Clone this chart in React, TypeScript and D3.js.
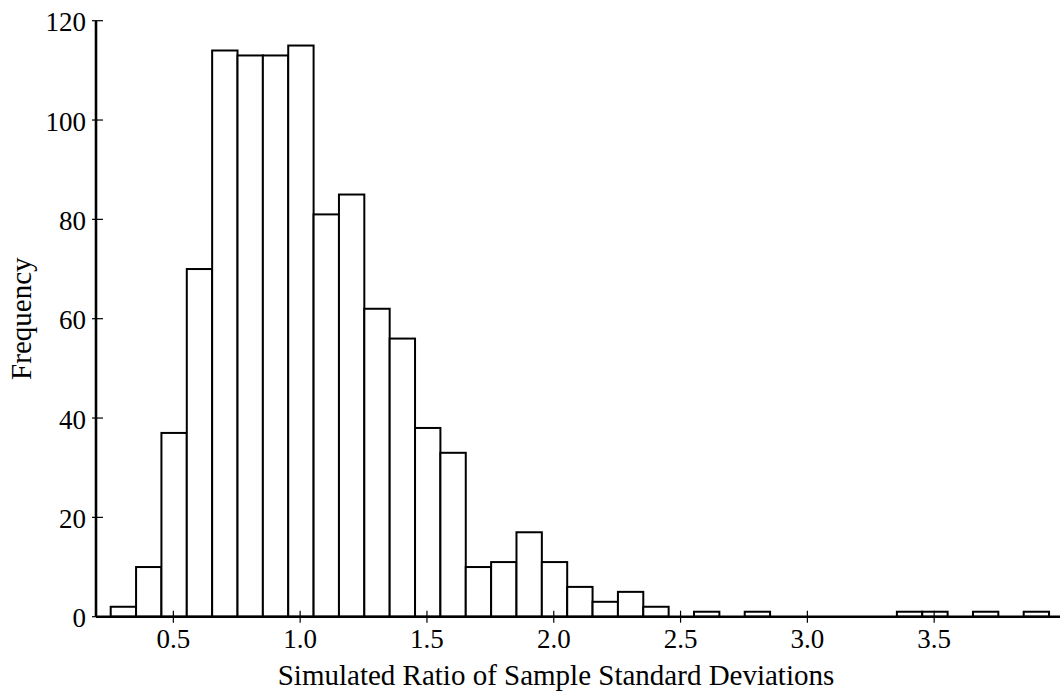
import React from "react";
import * as d3 from "d3";

// Histogram data: bins of width 0.1 starting at 0.253
const binStart = 0.253;
const binWidth = 0.1;
const counts = [
  2, 10, 37, 70, 114, 113, 113, 115, 81, 85, 62, 56, 38, 33, 10, 11, 17, 11, 6, 3, 5, 2,
  0, 1, 0, 1, 0, 0, 0, 0, 0, 1, 1, 0, 1, 0, 1,
];
const xTicks = [0.5, 1.0, 1.5, 2.0, 2.5, 3.0, 3.5];
const yTicks = [0, 20, 40, 60, 80, 100, 120];
const xTitle = "Simulated Ratio of Sample Standard Deviations";
const yTitle = "Frequency";

const W = 1060;
const H = 692;
const FONT = "'Liberation Serif', 'Times New Roman', serif";

export default function App() {
  const x = d3.scaleLinear().domain([0.195, 3.993]).range([96, 1059.2]);
  const y = d3.scaleLinear().domain([0, 120]).range([616.7, 20.7]);

  const bins = counts.map((c, i) => ({
    x0: binStart + i * binWidth,
    x1: binStart + (i + 1) * binWidth,
    c,
  }));

  const axisX0 = x.range()[0];
  const axisY0 = y(0);

  return (
    <svg
      width={W}
      height={H}
      style={{ position: "absolute", left: 0, top: 0, background: "#fff" }}
      fontFamily={FONT}
    >
      <rect width={W} height={H} fill="#fff" />
      {bins
        .filter((b) => b.c > 0)
        .map((b, i) => (
          <rect
            key={i}
            x={x(b.x0)}
            y={y(b.c)}
            width={x(b.x1) - x(b.x0)}
            height={y(0) - y(b.c)}
            fill="#fff"
            stroke="#000"
            strokeWidth={2}
          />
        ))}
      {/* x axis */}
      <line x1={axisX0} x2={W} y1={axisY0} y2={axisY0} stroke="#000" strokeWidth={2.6} />
      {xTicks.map((t) => (
        <g key={t}>
          <line x1={x(t)} x2={x(t)} y1={axisY0 - 6} y2={axisY0 + 6} stroke="#000" strokeWidth={1.2} />
          <text x={x(t)} y={axisY0 + 31.6} textAnchor="middle" fontSize={27} fill="#000">
            {t.toFixed(1)}
          </text>
        </g>
      ))}
      {/* y axis */}
      <line x1={axisX0} x2={axisX0} y1={y(120)} y2={axisY0} stroke="#000" strokeWidth={2.6} />
      {yTicks.map((t) => (
        <g key={t}>
          <line x1={axisX0 - 4} x2={axisX0 + 7} y1={y(t)} y2={y(t)} stroke="#000" strokeWidth={1.2} />
          <text x={86} y={y(t) + 10.5} textAnchor="end" fontSize={27} fill="#000">
            {t}
          </text>
        </g>
      ))}
      <text x={556} y={685} textAnchor="middle" fontSize={29} fill="#000">
        {xTitle}
      </text>
      <text
        transform={`translate(31, ${(y(0) + y(120)) / 2}) rotate(-90)`}
        textAnchor="middle"
        fontSize={29}
        fill="#000"
      >
        {yTitle}
      </text>
    </svg>
  );
}
